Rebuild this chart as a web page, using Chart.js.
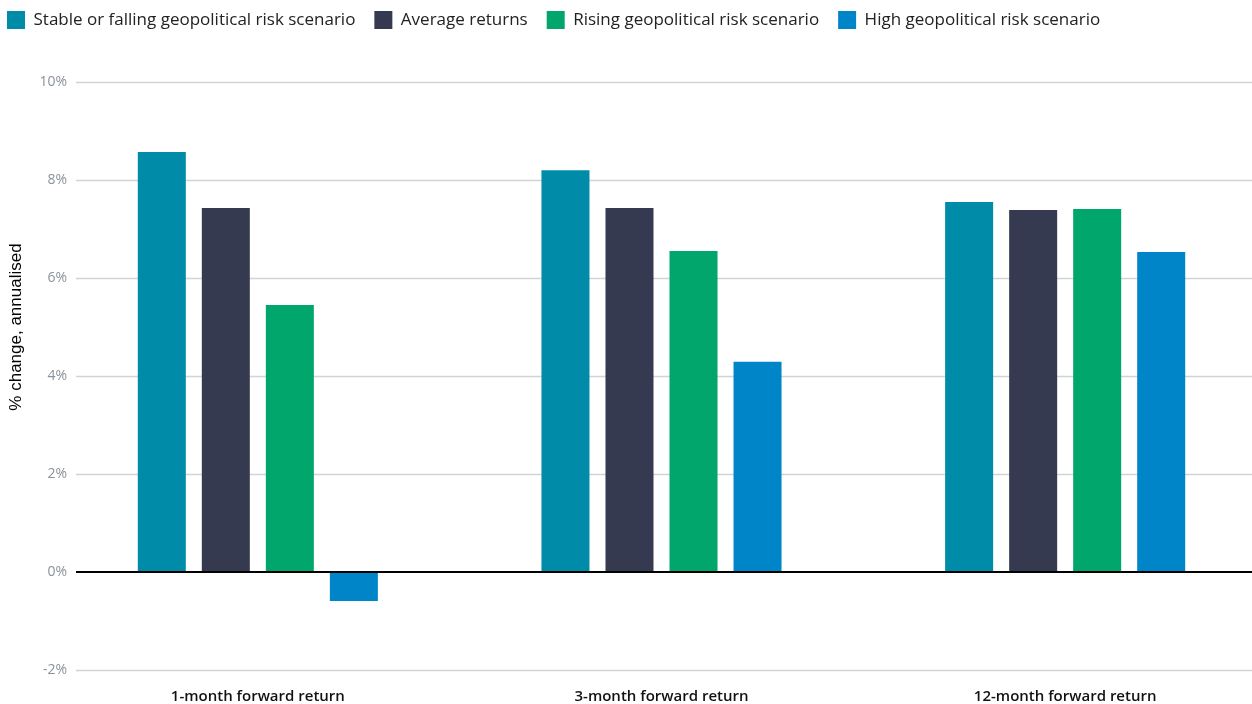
<!DOCTYPE html>
<html>
<head>
<meta charset="utf-8">
<script src="https://cdn.jsdelivr.net/npm/chart.js@4.4.1/dist/chart.umd.min.js"></script>
<style>
    html, body { margin: 0; padding: 0; background: #fff; overflow: hidden; }
    #wrap { width: 1267px; height: 704px; }
</style>
</head>
<body>
<div id="wrap"><canvas id="chart" width="1267" height="704"></canvas></div>
<script>
// Forward returns by geopolitical risk regime (% change, annualised)
const categories = ['1-month forward return', '3-month forward return', '12-month forward return'];
const stableOrFalling = [8.57, 8.20, 7.55];
const averageReturns = [7.43, 7.43, 7.39];
const risingRisk = [5.45, 6.55, 7.41];
const highRisk = [-0.59, 4.29, 6.53];
const yTicks = [-2, 0, 2, 4, 6, 8, 10];

const COLORS = {
    stable: '#008CA8',
    average: '#353A50',
    rising: '#00A66B',
    high: '#0086C8',
    grid: '#CFD4D8',
    tick: '#8B9299'
};

// Gridlines + tick labels sit a little right of the axis box; zero line on top of bars
const gridPlugin = {
    id: 'customGrid',
    beforeDatasetsDraw(chart) {
        const { ctx, chartArea, scales: { y } } = chart;
        ctx.save();
        ctx.strokeStyle = COLORS.grid;
        ctx.lineWidth = 1.5;
        yTicks.forEach(v => {
            if (v === 0) return;
            const py = Math.round(y.getPixelForValue(v)) + 0.5;
            ctx.beginPath();
            ctx.moveTo(chartArea.left + 20, py);
            ctx.lineTo(chartArea.right, py);
            ctx.stroke();
        });

        ctx.fillStyle = COLORS.tick;
        ctx.font = '14px "Open Sans", sans-serif';
        ctx.textAlign = 'right';
        ctx.textBaseline = 'middle';
        yTicks.forEach(v => {
            ctx.fillText(v + '%', chartArea.left + 11, y.getPixelForValue(v));
        });
        ctx.restore();
    },
    afterDatasetsDraw(chart) {
        const { ctx, chartArea, scales: { y } } = chart;
        const py = Math.round(y.getPixelForValue(0));
        ctx.save();
        ctx.strokeStyle = '#000';
        ctx.lineWidth = 2;
        ctx.beginPath();
        ctx.moveTo(chartArea.left + 20, py);
        ctx.lineTo(chartArea.right, py);
        ctx.stroke();

        // axis title
        ctx.translate(16, y.getPixelForValue(5));
        ctx.rotate(-Math.PI / 2);
        ctx.fillStyle = '#000';
        ctx.font = '17px "Liberation Sans", Arial, sans-serif';
        ctx.textAlign = 'center';
        ctx.textBaseline = 'middle';
        ctx.fillText('% change, annualised', 0, 0);
        ctx.restore();
    }
};

// Fixed legend height so the plot starts at the same place every time
const legendHeightPlugin = {
    id: 'legendHeight',
    beforeInit(chart) {
        const originalFit = chart.legend.fit;
        chart.legend.fit = function () {
            originalFit.bind(chart.legend)();
            this.height = 90;
        };
    }
};

const ctx = document.getElementById('chart').getContext('2d');
new Chart(ctx, {
    type: 'bar',
    data: {
        labels: categories,
        datasets: [
            { label: 'Stable or falling geopolitical risk scenario', data: stableOrFalling, backgroundColor: COLORS.stable },
            { label: 'Average returns', data: averageReturns, backgroundColor: COLORS.average },
            { label: 'Rising geopolitical risk scenario', data: risingRisk, backgroundColor: COLORS.rising },
            { label: 'High geopolitical risk scenario', data: highRisk, backgroundColor: COLORS.high }
        ]
    },
    options: {
        responsive: false,
        animation: false,
        categoryPercentage: 0.6344,
        barPercentage: 0.75,
        layout: { padding: { top: -8, left: -12, right: 0, bottom: 0 } },
        plugins: {
            tooltip: { enabled: false },
            legend: {
                position: 'top',
                align: 'start',
                labels: {
                    boxWidth: 18,
                    boxHeight: 18,
                    padding: 19,
                    color: '#222',
                    font: { family: '"Open Sans", sans-serif', size: 17 }
                }
            }
        },
        scales: {
            x: {
                grid: { display: false },
                border: { display: false },
                ticks: {
                    color: '#111',
                    padding: 10,
                    maxRotation: 0,
                    font: { family: '"Open Sans", sans-serif', size: 15, weight: 600 }
                },
                afterFit(scale) { scale.height = 34; }
            },
            y: {
                min: -2,
                max: 10,
                grid: { display: false },
                border: { display: false },
                afterBuildTicks(scale) {
                    scale.ticks = yTicks.map(v => ({ value: v }));
                },
                ticks: { display: false },
                afterFit(scale) { scale.width = 68; }
            }
        }
    },
    plugins: [gridPlugin, legendHeightPlugin]
});
</script>
</body>
</html>
